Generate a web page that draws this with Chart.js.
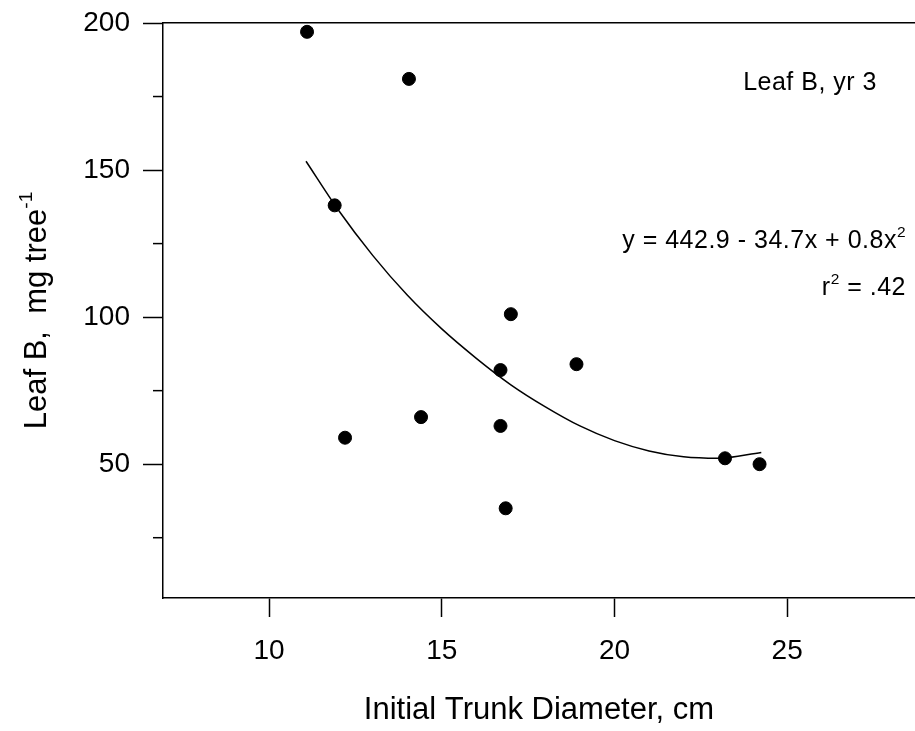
<!DOCTYPE html>
<html>
<head>
<meta charset="utf-8">
<script src="https://cdn.jsdelivr.net/npm/chart.js@4"></script>
<style>
	html, body { margin: 0; padding: 0; background: #fff; overflow: hidden; }
	#wrap { width: 915px; height: 731px; overflow: hidden; }
	#leafChart { display: block; }
</style>
</head>
<body>
<div id="wrap"><canvas id="leafChart"></canvas></div>
<script>
"use strict";

// trunk diameter (cm) and leaf B (mg per tree), one per tree
let diameter = [11.1, 14.05, 11.9, 17.0, 16.7, 18.9, 14.4, 12.2, 16.7, 16.85, 23.2, 24.2];
let leaf_b = [197, 181, 138, 101, 82, 84, 66, 59, 63, 35, 52, 50];

// fitted curve
let fit_x = [11.07, 12, 13, 14, 15, 16, 17, 18, 19, 20, 21, 22, 23, 24.25];
let fit_y = [153, 136.5, 121, 107.5, 96, 86, 77, 69.5, 63, 58, 54.5, 52.5, 52, 54];

let x_ticks = [10, 15, 20, 25];
let y_ticks = [25, 50, 75, 100, 125, 150, 175, 200];
let y_labels = [50, 100, 150, 200];

const FONT = "'Liberation Sans', Arial, Helvetica, sans-serif";

// draws text with a raised small part, e.g. x2 or tree-1
function draw_parts(ctx, parts, x, y, size, align, spacing) {
	ctx.letterSpacing = (spacing || 0) + "px";
	let total = 0;
	for (let p of parts) {
		ctx.font = (p.sup ? size * 0.62 : size) + "px " + FONT;
		p.w = ctx.measureText(p.t).width;
		total += p.w;
	}
	let cx = align == "right" ? x - total : align == "center" ? x - total / 2 : x;
	ctx.textAlign = "left";
	ctx.textBaseline = "alphabetic";
	for (let p of parts) {
		ctx.font = (p.sup ? size * 0.62 : size) + "px " + FONT;
		ctx.fillText(p.t, cx, p.sup ? y - size * 0.45 : y);
		cx += p.w;
	}
	ctx.letterSpacing = "0px";
}

function no_pad(scale) {
	scale.paddingTop = 0;
	scale.paddingBottom = 0;
	scale.paddingLeft = 0;
	scale.paddingRight = 0;
}

const extras = {
	id: "extras",
	afterDraw(chart) {
		let ctx = chart.ctx;
		let area = chart.chartArea;
		let y = chart.scales.y;
		ctx.save();
		ctx.strokeStyle = "#000";
		ctx.fillStyle = "#000";
		ctx.lineWidth = 1.5;
		// short minor ticks on y axis
		for (let v of y_ticks) {
			if (y_labels.includes(v)) continue;
			let py = y.getPixelForValue(v);
			ctx.beginPath();
			ctx.moveTo(area.left - 10, py);
			ctx.lineTo(area.left, py);
			ctx.stroke();
		}

		// y axis title with superscript
		ctx.save();
		ctx.translate(46, (area.top + area.bottom) / 2);
		ctx.rotate(-Math.PI / 2);
		draw_parts(ctx, [{ t: "Leaf B,  mg tree" }, { t: "-1", sup: true }], 0, 0, 31, "center");
		ctx.restore();

		// annotations
		draw_parts(ctx, [{ t: "Leaf B, yr 3" }], 877, 90, 25, "right", 0.5);
		draw_parts(ctx, [{ t: "y = 442.9 - 34.7x + 0.8x" }, { t: "2", sup: true }], 906, 248, 25, "right", 0.5);
		draw_parts(ctx, [{ t: "r" }, { t: "2", sup: true }, { t: " = .42" }], 906, 295, 25, "right", 0.5);
		ctx.restore();
	},
};

let ctx = document.getElementById("leafChart").getContext("2d");
let chart = new Chart(ctx, {
	type: "scatter",
	data: {
		datasets: [
			{
				label: "Leaf B",
				data: diameter.map((d, i) => ({ x: d, y: leaf_b[i] })),
				backgroundColor: "#000",
				borderColor: "#000",
				pointRadius: 6.5,
				pointHoverRadius: 6.5,
			},
			{
				label: "fit",
				type: "line",
				data: fit_x.map((d, i) => ({ x: d, y: fit_y[i] })),
				borderColor: "#000",
				borderWidth: 1.5,
				pointRadius: 0,
				fill: false,
				cubicInterpolationMode: "monotone",
			},
		],
	},
	options: {
		responsive: true,
		maintainAspectRatio: false,
		animation: false,
		layout: { padding: 0, autoPadding: false },
		plugins: {
			legend: { display: false },
			tooltip: { enabled: false },
		},
		scales: {
			x: {
				type: "linear",
				position: "bottom",
				min: 6.93,
				max: 28.7,
				afterBuildTicks: (scale) => {
					scale.ticks = x_ticks.map((v) => ({ value: v }));
				},
				afterFit: (scale) => {
					scale.height = 133;
					no_pad(scale);
				},
				grid: {
					drawOnChartArea: false,
					drawTicks: true,
					tickLength: 19,
					tickColor: "#000",
					tickWidth: 1.5,
				},
				border: { display: true, color: "#000", width: 1.5 },
				ticks: {
					color: "#000",
					padding: 17,
					maxRotation: 0,
					font: { family: FONT, size: 28 },
				},
				title: {
					display: true,
					text: "Initial Trunk Diameter, cm",
					color: "#000",
					font: { family: FONT, size: 31 },
					padding: { top: 0, bottom: 2 },
				},
			},
			x2: {
				type: "linear",
				position: "top",
				min: 6.93,
				max: 28.7,
				afterBuildTicks: (scale) => {
					scale.ticks = x_ticks.map((v) => ({ value: v }));
				},
				afterFit: (scale) => {
					scale.height = 23;
					no_pad(scale);
				},
				grid: { display: false, drawTicks: false },
				border: { display: true, color: "#000", width: 1.5 },
				ticks: { display: false },
			},
			y: {
				type: "linear",
				min: 4.5,
				max: 200,
				afterBuildTicks: (scale) => {
					scale.ticks = y_ticks.map((v) => ({ value: v }));
				},
				afterFit: (scale) => {
					scale.width = 163;
					no_pad(scale);
				},
				grid: {
					drawOnChartArea: false,
					drawTicks: true,
					tickLength: 20,
					tickWidth: 1.5,
					tickColor: (c) => (c.tick && y_labels.includes(c.tick.value) ? "#000" : "rgba(0,0,0,0)"),
				},
				border: { display: true, color: "#000", width: 1.5 },
				ticks: {
					color: "#000",
					padding: 13,
					font: { family: FONT, size: 28 },
					callback: (v) => (y_labels.includes(v) ? v : ""),
				},
			},
		},
	},
	plugins: [extras],
});
</script>
</body>
</html>
